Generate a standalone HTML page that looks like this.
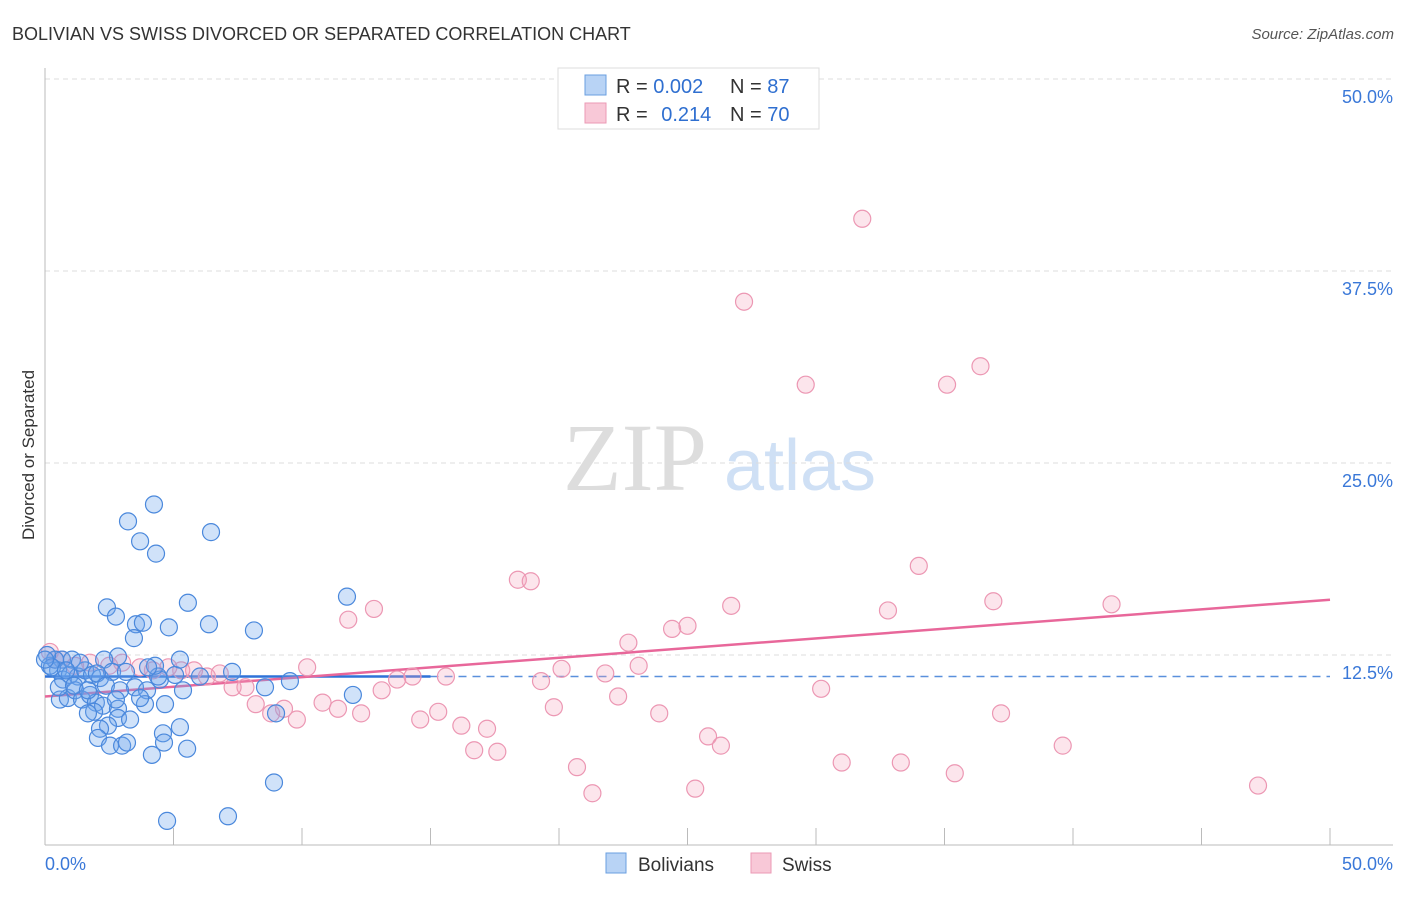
<!DOCTYPE html>
<html><head><meta charset="utf-8"><style>
body{margin:0;background:#fff;font-family:"Liberation Sans",sans-serif;}
svg text{font-family:"Liberation Sans",sans-serif;}
</style></head><body>
<svg id="chart" width="1406" height="892" xmlns="http://www.w3.org/2000/svg">
<text x="12" y="40" font-size="18" fill="#333">BOLIVIAN VS SWISS DIVORCED OR SEPARATED CORRELATION CHART</text>
<text x="1394" y="39" font-size="15" fill="#555" font-style="italic" text-anchor="end">Source: ZipAtlas.com</text>
<text x="635" y="490" font-size="96" fill="#ddd" text-anchor="middle" style="font-family:'Liberation Serif',serif">ZIP</text>
<text x="800" y="490" font-size="72" fill="#cfe0f5" text-anchor="middle">atlas</text>
<text transform="translate(34,455) rotate(-90)" font-size="17" fill="#333" text-anchor="middle">Divorced or Separated</text>
<g id="grid"></g><g id="axes"></g><g id="trend"></g><g id="pts"></g>
<g>
<rect x="558" y="68" width="261" height="61" fill="#fff" stroke="#ddd"/>
<rect x="585" y="75" width="21" height="20" fill="#b8d3f5" stroke="#6a9fe0"/>
<rect x="585" y="103" width="21" height="20" fill="#f8c8d7" stroke="#eb9ab4"/>
<text x="616" y="93" font-size="20" fill="#333">R = <tspan fill="#2f6fd0">0.002</tspan></text>
<text x="730" y="93" font-size="20" fill="#333">N = <tspan fill="#2f6fd0">87</tspan></text>
<text x="616" y="121" font-size="20" fill="#333">R = <tspan fill="#2f6fd0" dx="8">0.214</tspan></text>
<text x="730" y="121" font-size="20" fill="#333">N = <tspan fill="#2f6fd0">70</tspan></text>
</g>
<g>
<rect x="606" y="853" width="20" height="20" fill="#b8d3f5" stroke="#6a9fe0"/>
<text x="638" y="871" font-size="19" fill="#333">Bolivians</text>
<rect x="751" y="853" width="20" height="20" fill="#f8c8d7" stroke="#eb9ab4"/>
<text x="782" y="871" font-size="19" fill="#333">Swiss</text>
</g>
</svg>
<script>
const blueX=[4.24,3.23,3.70,4.32,6.46,2.41,2.76,3.54,3.81,3.46,4.82,5.56,6.38,8.13,11.75,2.84,2.30,0.66,0.51,0.19,0.39,0.70,0.97,1.28,1.56,1.83,2.14,2.61,3.15,3.50,3.97,4.47,5.06,5.25,5.37,7.28,8.56,9.53,11.98,0.58,0.89,1.17,1.44,1.75,1.98,2.26,2.84,3.89,4.67,1.91,1.67,2.84,3.31,2.45,2.14,2.06,2.53,3.00,3.19,4.16,4.59,4.63,5.25,5.53,8.99,8.91,4.75,7.12,0.08,0.27,0.0,1.05,1.36,2.02,2.37,2.92,3.70,4.40,6.03,4.28,4.01,0.54,0.82,1.13,1.67,2.76];
const blueY=[22.3,21.2,19.9,19.1,20.5,15.6,15.0,14.5,14.6,13.6,14.3,15.9,14.5,14.1,16.3,12.4,12.2,12.2,11.5,11.8,12.2,10.9,11.2,11.1,11.5,11.2,11.0,11.4,11.4,10.4,10.2,10.9,11.2,12.2,10.2,11.4,10.4,10.8,9.9,9.6,9.7,10.2,9.6,9.9,9.4,9.2,9.0,9.3,9.3,8.8,8.7,8.4,8.3,7.9,7.7,7.1,6.6,6.6,6.8,6.0,7.4,6.8,7.8,6.4,8.7,4.2,1.7,2.0,12.5,11.7,12.2,12.2,12.0,11.3,10.5,10.2,9.7,11.1,11.1,11.8,11.7,10.4,11.5,10.5,10.2,9.6];
const pinkX=[31.8,27.2,29.6,35.1,36.4,18.4,18.9,12.8,11.8,26.7,32.8,36.9,41.5,34.0,22.7,24.4,25.0,23.1,21.8,20.1,19.3,15.6,14.3,13.7,13.1,10.2,10.8,11.4,12.3,9.8,8.8,8.2,9.3,7.8,7.3,6.8,6.3,5.8,5.3,4.8,4.2,3.7,3.0,2.5,1.75,1.17,0.66,0.19,0.39,19.8,22.3,23.9,15.3,14.6,16.2,17.2,16.7,17.6,20.7,21.3,25.3,25.8,26.3,30.2,31.0,33.3,35.4,37.2,39.6,47.2];
const pinkY=[40.9,35.5,30.1,30.1,31.3,17.4,17.3,15.5,14.8,15.7,15.4,16.0,15.8,18.3,13.3,14.2,14.4,11.8,11.3,11.6,10.8,11.1,11.1,10.9,10.2,11.7,9.4,9.0,8.7,8.3,8.7,9.3,9.0,10.4,10.4,11.3,11.1,11.5,11.5,11.7,11.5,11.7,12.0,11.8,12.0,11.8,12.2,12.7,12.2,9.1,9.8,8.7,8.8,8.3,7.9,7.7,6.3,6.2,5.2,3.5,3.8,7.2,6.6,10.3,5.5,5.5,4.8,8.7,6.6,4.0];
const blueTrend=[11.1,11.1]; // y at x=0 and x=50
const pinkTrend=[9.8,16.1];
const yTicks=[12.5,25,37.5,50];
const xTickLabels=["0.0%","50.0%"];
const NS="http://www.w3.org/2000/svg";
const sx=v=>45+v/50*1285, sy=v=>847-v/12.5*192;
function mk(tag,attrs,parent){const e=document.createElementNS(NS,tag);for(const k in attrs)e.setAttribute(k,attrs[k]);document.getElementById(parent).appendChild(e);return e;}
yTicks.forEach(t=>{
  const l=mk('line',{x1:45,x2:1393,y1:sy(t),y2:sy(t),stroke:'#ddd','stroke-dasharray':'5,4'},'grid');
  
  
  const tx=mk('text',{x:1393,y:sy(t)+24,'font-size':18,fill:'#3a78d8','text-anchor':'end'},'grid');
  tx.textContent=t.toFixed(1)+'%';
  
  
});
let a=mk('line',{x1:45,x2:45,y1:68,y2:845,stroke:'#bbb'},'axes');


a=mk('line',{x1:45,x2:1393,y1:845,y2:845,stroke:'#bbb'},'axes');


for(let i=1;i<=10;i++){const t=mk('line',{x1:sx(i*5),x2:sx(i*5),y1:828,y2:845,stroke:'#bbb'},'axes');
  
  }
[[0,45,'start'],[1,1393,'end']].forEach(([i,x,an])=>{const t=mk('text',{x:x,y:870,'font-size':18,fill:'#3a78d8','text-anchor':an},'axes');t.textContent=xTickLabels[i];
  
  });
function drawPts(X,Y,fill,stroke,name){X.forEach((x,i)=>{const c=mk('circle',{cx:sx(x),cy:sy(Y[i]),r:8.5,fill:fill,stroke:stroke,'stroke-width':1.2},'pts');
  
  });}
drawPts(pinkX,pinkY,'rgba(244,160,188,0.28)','#ec97b3','swiss-point');
drawPts(blueX,blueY,'rgba(110,165,235,0.32)','#4a88dc','bolivian-point');
const yAt=(tr,x)=>tr[0]+(tr[1]-tr[0])*x/50;
let t=mk('line',{x1:sx(0),x2:sx(15),y1:sy(yAt(blueTrend,0)),y2:sy(yAt(blueTrend,15)),stroke:'#2f72d8','stroke-width':2.5},'trend');


t=mk('line',{x1:sx(15),x2:sx(50),y1:sy(yAt(blueTrend,15)),y2:sy(yAt(blueTrend,50)),stroke:'#5a90dc','stroke-width':1.5,'stroke-dasharray':'8,6'},'trend');


t=mk('line',{x1:sx(0),x2:sx(50),y1:sy(pinkTrend[0]),y2:sy(pinkTrend[1]),stroke:'#e8679a','stroke-width':2.5},'trend');


</script>
</body></html>
